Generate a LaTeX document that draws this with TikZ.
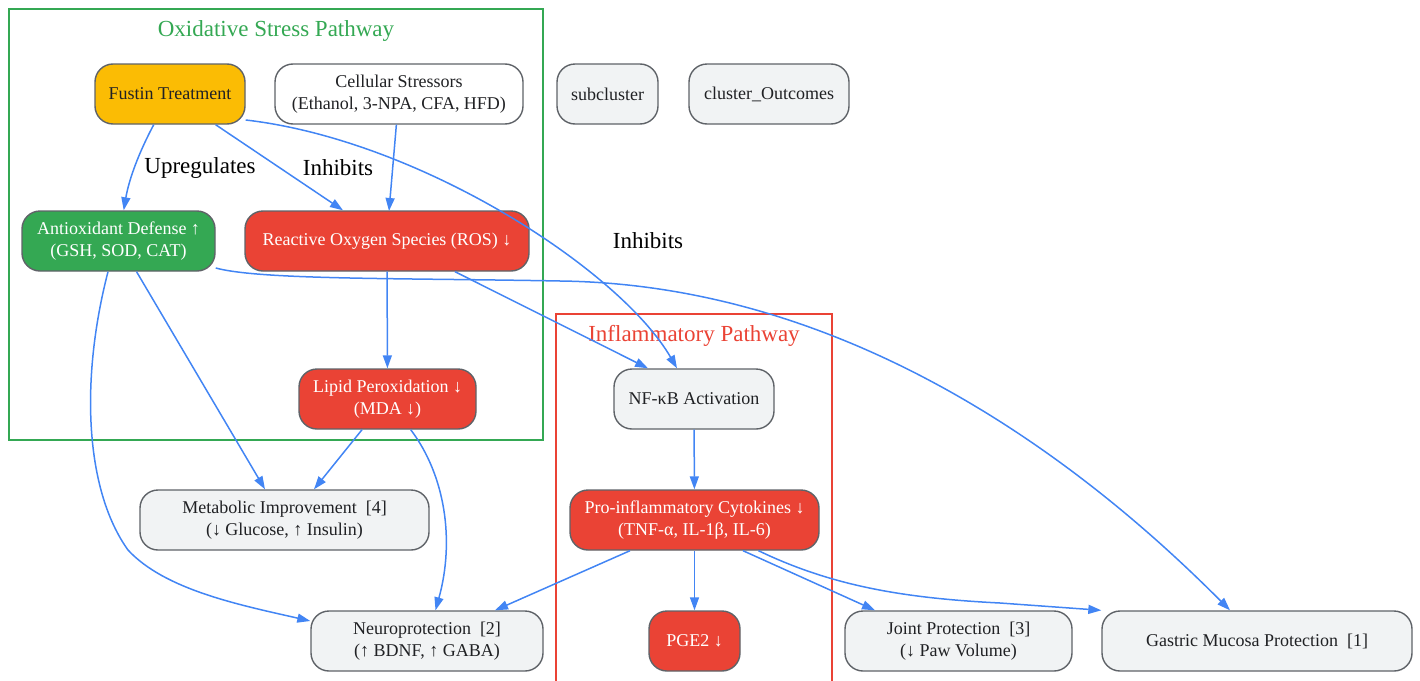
\documentclass[tikz,border=0pt]{standalone}
\usepackage{fontspec}
\setmainfont{Liberation Serif}
\usetikzlibrary{arrows.meta}

\definecolor{edgeblue}{HTML}{4285F4}
\definecolor{oxgreen}{HTML}{34A853}
\definecolor{infred}{HTML}{EA4335}
\definecolor{amber}{HTML}{FBBC04}
\definecolor{paleg}{HTML}{F1F3F4}
\definecolor{rim}{HTML}{5F6368}
\definecolor{ink}{HTML}{202124}

\tikzset{
  box/.style={draw=rim, line width=1.4pt, rounded corners=18pt, fill=paleg,
    text=ink, minimum height=60pt, inner sep=2pt, align=center,
    font=\fontsize{18}{22}\selectfont},
  hotbox/.style={box, fill=infred, text=white},
  goodbox/.style={box, fill=oxgreen, text=white},
  link/.style={draw=edgeblue, line width=1.5pt, -{Triangle[length=13pt,width=9pt]}},
  lbl/.style={font=\fontsize{23}{27}\selectfont, text=black},
  ctitle/.style={font=\fontsize{23}{27}\selectfont}
}

\begin{document}
\begin{tikzpicture}[x=1pt,y=-1pt]
  \useasboundingbox (0,0) rectangle (1420,680);

  % clusters
  \draw[oxgreen, line width=1.4pt] (9,9) rectangle (543,440);
  \node[ctitle, text=oxgreen] (oxtitle) at (276,31) {Oxidative Stress Pathway};
  \draw[infred, line width=1.4pt] (556,681) -- (556,314) -- (832,314) -- (832,681);
  \node[ctitle, text=infred] (inftitle) at (694,336) {Inflammatory Pathway};

  % nodes
  \node[box, fill=amber, minimum width=150pt] (fustin) at (170,94) {Fustin Treatment};
  \node[box, fill=white, minimum width=248pt] (stress) at (399,94) {Cellular Stressors\\(Ethanol, 3-NPA, CFA, HFD)};
  \node[box, minimum width=101pt] (subcl) at (607.5,94) {subcluster};
  \node[box, minimum width=160pt] (outc) at (769,94) {cluster\_Outcomes};

  \node[goodbox, minimum width=193pt] (antiox) at (118.5,241) {Antioxidant Defense ↑\\(GSH, SOD, CAT)};
  \node[hotbox, minimum width=284pt] (ros) at (387,241) {Reactive Oxygen Species (ROS) ↓};
  \node[hotbox, minimum width=177pt] (lipid) at (387.5,399) {Lipid Peroxidation ↓\\(MDA ↓)};

  \node[box, minimum width=160pt] (nfkb) at (694,399) {NF-κB Activation};
  \node[hotbox, minimum width=249pt] (cyto) at (694.5,520) {Pro-inflammatory Cytokines ↓\\(TNF-α, IL-1β, IL-6)};
  \node[hotbox, minimum width=91pt] (pge) at (694.5,641) {PGE2 ↓};

  \node[box, minimum width=289pt] (metab) at (284.5,520) {Metabolic Improvement\ \ [4]\\(↓ Glucose, ↑ Insulin)};
  \node[box, minimum width=232pt] (neuro) at (427,641) {Neuroprotection\ \ [2]\\(↑ BDNF, ↑ GABA)};
  \node[box, minimum width=227pt] (joint) at (958.5,641) {Joint Protection\ \ [3]\\(↓ Paw Volume)};
  \node[box, minimum width=310pt] (gastric) at (1257,641) {Gastric Mucosa Protection\ \ [1]};

  % edges
  \draw[link] (fustin) .. controls (135,160) and (128,185) .. (antiox);
  \draw[link] (fustin) -- (ros.north west -| 343,0);
  \draw[link] (stress) -- (389,211);
  \draw[link] (fustin.east |- 0,120) .. controls (420,140) and (620,270) .. (nfkb.north -| 677,0);
  \draw[link] (antiox) -- (metab.north -| 265,0);
  \draw[link] (antiox.south -| 108,0) .. controls (80,380) and (85,490) .. (128,550)
    .. controls (165,590) and (240,605) .. (neuro.west |- 0,621);
  \draw[link] (antiox.east |- 0,268) .. controls (260,280) and (400,278) .. (560,281)
    .. controls (880,285) and (1120,500) .. (gastric.north -| 1230,0);
  \draw[link] (ros) -- (lipid);
  \draw[link] (ros.south -| 455,0) -- (nfkb.north -| 648,0);
  \draw[link] (lipid.south -| 362,0) -- (metab.north -| 314,0);
  \draw[link] (lipid) .. controls (445,475) and (455,540) .. (neuro);
  \draw[link] (nfkb) -- (cyto);
  \draw[link] (cyto.south -| 630,0) -- (neuro.north -| 495,0);
  \draw[link] (cyto) -- (pge);
  \draw[link] (cyto.south -| 743,0) -- (joint.north -| 875,0);
  \draw[link] (cyto) .. controls (830,585) and (900,598) .. (1000,603) -- (gastric.north west);

  % edge labels
  \node[lbl] (upreg) at (200,168) {Upregulates};
  \node[lbl] (inhibA) at (338,168) {Inhibits};
  \node[lbl] (inhibB) at (648,241) {Inhibits};
\end{tikzpicture}
\end{document}
